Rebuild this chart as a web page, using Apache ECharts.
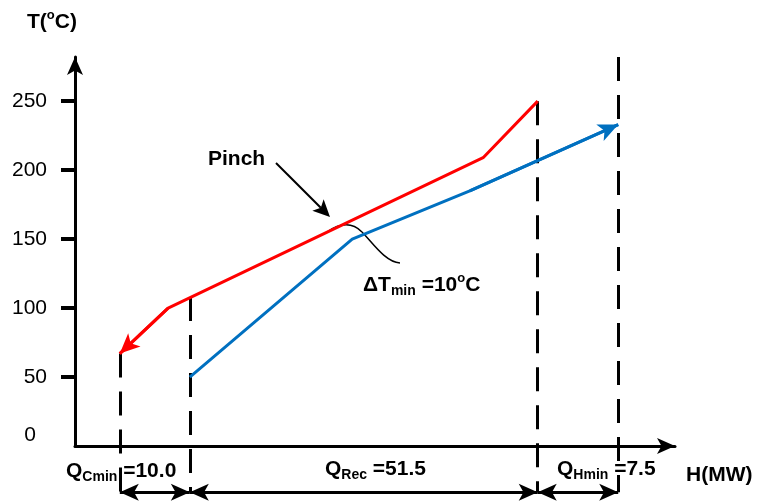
<!DOCTYPE html>
<html>
<head>
<meta charset="utf-8">
<script src="https://cdn.jsdelivr.net/npm/echarts@6/dist/echarts.min.js"></script>
<style>
  html, body { margin: 0; padding: 0; background: #fff; }
  #chart { width: 758px; height: 503px; }
</style>
</head>
<body>
<div id="chart"></div>
<script>
// composite curves (H in MW, T in degC)
const hotH = [66.1, 58.3, 13.3, 6.4];
const hotT = [250, 209, 100, 67];
const coldH = [16.4, 39.6, 56.4, 77.6];
const coldT = [50, 150, 185, 233];
// vertical guides: position on H and how high each one reaches
const guideH = [6.4, 16.4, 66.1, 77.6];
const guideTop = [67, 108, 250, 282];
const yTicks = [0, 50, 100, 150, 200, 250];

const RED = '#ff0000';
const BLUE = '#0070c0';
const FONT = 'Arial, "Liberation Sans", sans-serif';
const DIM_T = -33.5; // level of the duty arrows, below the H axis
const H_MAX = 85.71;

const hotData = hotH.map((h, i) => [h, hotT[i]]);
const coldData = coldH.map((h, i) => [h, coldT[i]]);

const chart = echarts.init(document.getElementById('chart'));

const rich = {
  b: { fontFamily: FONT, fontWeight: 'bold', fontSize: 21, lineHeight: 26, color: '#000' },
  sub: { fontFamily: FONT, fontWeight: 'bold', fontSize: 14, lineHeight: 14, verticalAlign: 'bottom', color: '#000' },
  sup: { fontFamily: FONT, fontWeight: 'bold', fontSize: 13, lineHeight: 13, verticalAlign: 'top', color: '#000' }
};

function label(x, y, text) {
  return { type: 'text', x: x, y: y, silent: true,
    style: { text: text, rich: rich, align: 'left', verticalAlign: 'middle' } };
}

// arrow from a start point to a tip, with a notched head
function pointer(x1, y1, x2, y2) {
  const len = Math.hypot(x2 - x1, y2 - y1);
  const dx = (x2 - x1) / len, dy = (y2 - y1) / len;
  const bx = x2 - 17 * dx, by = y2 - 17 * dy;
  const nx = x2 - 13 * dx, ny = y2 - 13 * dy;
  return [
    { type: 'line', silent: true, shape: { x1: x1, y1: y1, x2: nx, y2: ny },
      style: { stroke: '#000', lineWidth: 2 } },
    { type: 'polygon', silent: true,
      shape: { points: [[x2, y2], [bx - 8 * dy, by + 8 * dx], [nx, ny], [bx + 8 * dy, by - 8 * dx]] },
      style: { fill: '#000' } }
  ];
}

function curveArrow(data, color) {
  const n = data.length;
  return {
    silent: true,
    symbol: ['none', 'arrow'],
    symbolSize: [13.5, 20],
    label: { show: false },
    emphasis: { disabled: true },
    lineStyle: { color: color, width: 3, type: 'solid' },
    data: [[{ coord: data[n - 2] }, { coord: data[n - 1] }]]
  };
}

const option = {
  animation: false,
  grid: [
    { left: 75, right: 83, top: 57, bottom: 57, outerBoundsMode: 'none' },
    { left: 75, right: 83, top: 446, bottom: 0, outerBoundsMode: 'none' }
  ],
  xAxis: [
    {
      type: 'value', gridIndex: 0, min: 0, max: H_MAX,
      axisLine: { show: true, onZero: false, symbol: ['none', 'arrow'], symbolSize: [12, 18],
        lineStyle: { color: '#000', width: 3 } },
      axisTick: { show: false },
      axisLabel: { show: false },
      splitLine: { show: false }
    },
    { type: 'value', gridIndex: 1, min: 0, max: H_MAX, show: false }
  ],
  yAxis: [
    {
      type: 'value', gridIndex: 0, min: 0, max: 282,
      axisLine: { show: true, onZero: false, symbol: ['none', 'arrow'], symbolSize: [12, 18],
        lineStyle: { color: '#000', width: 3 } },
      axisTick: { show: true, length: 14, customValues: yTicks.slice(1),
        lineStyle: { color: '#000', width: 4 } },
      axisLabel: {
        customValues: yTicks, margin: 28, color: '#000', fontFamily: FONT, fontSize: 21,
        formatter: v => (v === 0 ? '{z|0}' : String(v)),
        rich: { z: { fontFamily: FONT, fontSize: 21, color: '#000', padding: [0, 11, 22, 0] } }
      },
      splitLine: { show: false }
    },
    { type: 'value', gridIndex: 1, min: -41.3, max: 0, show: false }
  ],
  series: [
    {
      name: 'Hot', type: 'line', data: hotData, symbol: 'none', clip: false, silent: true,
      lineStyle: { color: RED, width: 3 }, itemStyle: { color: RED },
      markLine: curveArrow(hotData, RED)
    },
    {
      name: 'Cold', type: 'line', data: coldData, symbol: 'none', clip: false, silent: true,
      lineStyle: { color: BLUE, width: 3 }, itemStyle: { color: BLUE },
      markLine: curveArrow(coldData, BLUE)
    },
    {
      name: 'Guides', type: 'lines', coordinateSystem: 'cartesian2d', clip: false, silent: true,
      symbol: 'none',
      lineStyle: { color: '#000', width: 3, type: [24, 14], opacity: 1 },
      data: guideH.map((h, i) => ({ coords: [[h, guideTop[i]], [h, DIM_T]] }))
    },
    {
      name: 'Duties', type: 'line', xAxisIndex: 1, yAxisIndex: 1, data: [], silent: true,
      markLine: {
        silent: true, symbol: ['arrow', 'arrow'], symbolSize: [12.75, 19],
        label: { show: false }, emphasis: { disabled: true },
        lineStyle: { color: '#000', width: 3, type: 'solid' },
        data: guideH.slice(1).map((h, i) => [{ coord: [guideH[i], DIM_T] }, { coord: [h, DIM_T] }])
      }
    }
  ],
  graphic: [
    label(27, 22, '{b|T(}{sup|o}{b|C)}'),
    label(208, 159, '{b|Pinch}'),
    label(363, 285, '{b|\u0394T}{sub|min}{b| =10}{sup|o}{b|C}'),
    label(66, 471, '{b|Q}{sub|Cmin}{b| =10.0}'),
    label(325, 469, '{b|Q}{sub|Rec}{b| =51.5}'),
    label(557, 469, '{b|Q}{sub|Hmin}{b| =7.5}'),
    label(686, 475, '{b|H(MW)}'),
    ...pointer(276, 163, 330, 217),
    { type: 'bezierCurve', silent: true,
      shape: { x1: 327, y1: 232, cpx1: 340, cpy1: 223, cpx2: 352, cpy2: 222, x2: 362, y2: 232 },
      style: { stroke: '#000', lineWidth: 1.5, fill: 'none' } },
    { type: 'bezierCurve', silent: true,
      shape: { x1: 362, y1: 232, cpx1: 372, cpy1: 242, cpx2: 385, cpy2: 262, x2: 400, y2: 263 },
      style: { stroke: '#000', lineWidth: 1.5, fill: 'none' } }
  ]
};

chart.setOption(option);
</script>
</body>
</html>
